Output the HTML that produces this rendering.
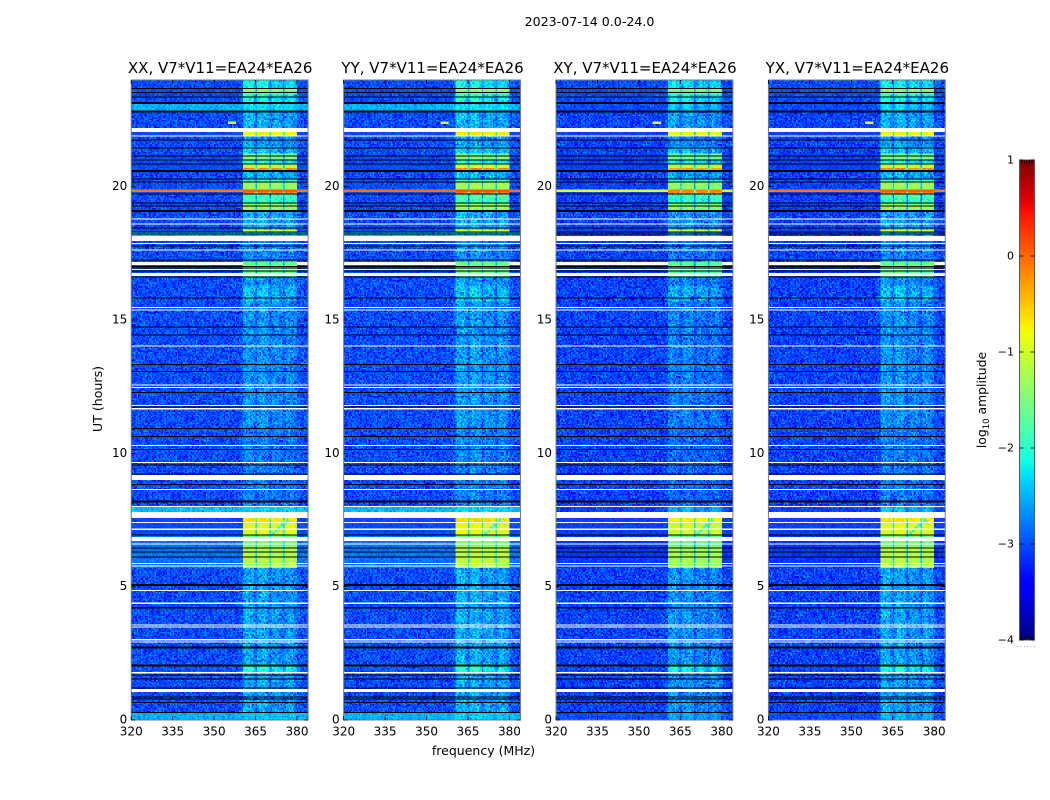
<!DOCTYPE html>
<html>
<head>
<meta charset="utf-8">
<title>2023-07-14 0.0-24.0</title>
<style>
html,body{margin:0;padding:0;background:#fff;width:1050px;height:800px;overflow:hidden}
svg{display:block}
text{font-family:"DejaVu Sans","Liberation Sans",sans-serif;fill:#000}
</style>
</head>
<body>
<svg id="figure" xmlns="http://www.w3.org/2000/svg" width="1050" height="800" viewBox="0 0 1050 800">
  <rect x="0" y="0" width="1050" height="800" fill="#fff"/>
  <text x="589.5" y="26" font-size="12.6" text-anchor="middle">2023-07-14 0.0-24.0</text>
  <text x="0" y="0" font-size="12.6" text-anchor="middle" transform="translate(102,399) rotate(-90)">UT (hours)</text>
  <text x="483.5" y="755" font-size="12.5" text-anchor="middle">frequency (MHz)</text>
  <text x="0" y="0" font-size="12.4" text-anchor="middle" transform="translate(986,400) rotate(-90)">log<tspan font-size="8.5" dy="3">10</tspan><tspan dy="-3"> amplitude</tspan></text>
  <text x="1017" y="647" font-size="5" letter-spacing="1.7" fill="#444">......</text>
</svg>
<script>
// Panels, in drawing order
const polarizations = ['XX', 'YY', 'XY', 'YX'];
const baselineName = 'V7*V11=EA24*EA26';
const xTicksMHz = [320, 335, 350, 365, 380];
const yTicksUT = [0, 5, 10, 15, 20];
const colorbarTicks = [1, 0, -1, -2, -3, -4];

// Per-bin share of the on-band level, 128 half-MHz bins from 320 MHz, for bright rows
const brightWeight = [
  0,0,0,0,0,0,0,0,0,0, 0,0,0,0,0,0,0,0,0,0,
  0,0,0,0,0,0,0,0,0,0, 0,0,0,0,0,0,0,0,0,0,
  0,0,0,0,0,0,0,0,0,0, 0,0,0,0,0,0,0,0,0,0,
  0,0,0,0,0,0,0,0,0,0, 0,0,0,0,0,0,0,0,0,0,
  0,1,1,1,1,1,1,1,1,0.97, 0.35,0.97,1,1.02,1.03,1.03,1.03,1.02,1,0.97,
  0.35,0.95,1,1,1,1,1,0.98,0.98,0.95, 0.35,0.95,1,1,1,1,1,1,0.98,0.97,
  0,0,0,0,0,0,0,0
];
// Same bins for the quiet rows
const quietWeight = [
  0,0,0,0,0,0,0,0,0,0, 0,0,0,0,0,0,0,0,0,0,
  0,0,0,0,0,0,0,0,0,0, 0,0,0,0,0,0,0,0,0,0,
  0,0,0,0,0,0,0,0,0,0, 0,0,0,0,0,0,0,0,0,0,
  0,0,0,0,0,0,0,0,0,0, 0,0,0,0,0,0,0,0,0.05,0.1,
  0.15,0.85,1,1,1,1,1,0.95,0.8,0.6, 0.35,0.75,0.95,1,1,1,1,0.95,0.85,0.7,
  0.3,0.55,0.75,0.8,0.8,0.8,0.75,0.7,0.65,0.55, 0.3,0.6,0.8,0.85,0.85,0.8,0.75,0.7,0.65,0.5,
  0.2,0.15,0.1,0.08,0.05,0.03,0,0
];

// Time segments: start in UT hours and log10 amplitudes
const segStartUT = [
  0,0.3,1.8,2.1,5.7,6.5,6.95,7.4,7.8,8.0,
  11.0,15.7,16.3,16.6,17.2,18.15,18.3,18.4,19.1,19.35,
  19.54,19.7,19.9,20.2,20.3,20.55,20.72,20.87,21.0,21.26,
  21.5,21.9,22.2,22.8,23.15,23.44,23.59,23.7
];
const segOffParallel = [
  -2.5,-3,-2.95,-3,-2.8,-2.8,-3,-3,-2.45,-3,
  -3,-3,-3,-3,-3,-2.45,-3,-3,-3,-3,
  -3,-3,-3,-3,-3,-3,-3,-3,-3,-3,
  -3,-3,-3,-2.5,-3,-3,-3,-3
];
const segOffCross = [
  -3,-3.05,-3,-3.05,-3.1,-3.1,-3.05,-3.05,-3.05,-3.05,
  -3.05,-3.05,-3.05,-3.05,-3.05,-3.05,-3.05,-3.05,-3.05,-3.05,
  -3.05,-3.05,-3.05,-3.05,-3.05,-3.05,-3.05,-3.05,-3.05,-3.05,
  -3.05,-3.05,-3.05,-3,-3,-3,-3,-3
];
const segOn = [
  -2.4,-2.5,-2.0,-2.5,-1.15,-1.5,-0.9,-0.65,-2.35,-2.72,
  -2.6,-2.35,-2.6,-1.6,-2.65,-2.35,-0.9,-2.45,-1.35,-1.9,
  -1.8,-0.1,-1.3,-1.9,-2.4,-0.2,-1.05,-2.0,-1.5,-2.3,
  -2.55,-0.75,-2.45,-2.25,-2.0,-1.6,-1.3,-2.1
];
const segGrain = [
  0.6,1,0.7,1,0.45,0.45,0.3,0.3,0.6,1,
  1,1,1,0.6,1,0.6,0.35,1,0.6,0.8,
  0.8,0.35,0.6,0.7,1,0.35,0.4,0.7,0.6,0.9,
  1,0.35,1,0.6,0.8,0.6,0.5,0.8
];
const polOnShift = [0, 0.05, -0.1, 0];

// Horizontal interference line across the whole band
const rfiRowsUT = [19.8, 19.85];
const rfiLineLevel = [-0.1, -0.05, -0.8, -0.1];
const rfiOnBandLevel = [0.05, 0.1, -0.15, 0.05];

// Drifting tone inside the bright block near 7 UT
const sweepUT = [7.0, 7.1, 7.2, 7.3, 7.4, 7.5];
const sweepMHz = [371, 372, 373, 374, 375, 376];
const sweepLevel = -2.05;

// Isolated spots
const spotUT = [22.42, 22.42, 22.42];
const spotMHz = [355, 356, 357];
const spotLevel = [-1.1, -0.9, -1.1];

// Flagged times, UT hours
const thinBlackUT = [23.68,23.53,23.36,21.75,21.45,21.15,21.0,20.85,20.29,20.18,19.73,19.39,19.28,18.45,18.3,18.22,17.78,17.25,17.01,16.95,16.84,16.61,15.83,14.74,14.44,13.34,13.06,12.29,11.74,10.94,10.64,10.15,9.57,9.23,8.84,6.93,6.45,6.3,6.12,1.69,1.54,1.2,0.87,0.79,0.66,0.29];
const thickBlackUT = [23.14,22.82,20.59,19.09,8.19,5.06,4.21,2.72,2.04];
const thinWhiteUT = [21.9,18.79,18.6,17.87,17.62,16.89,15.47,15.38,14.03,12.56,12.47,11.79,11.67,10.29,9.66,8.64,8.01,7.41,7.15,6.6,5.87,5.78,4.86,4.38,3.56,3.49,3.01,2.93];
const whiteBandStartUT = [22.05,17.96,16.65,9.0,7.575,6.71,1.74,1.05];
const whiteBandEndUT = [22.2,18.15,16.76,9.19,7.8,6.86,1.8,1.16];
const offBandWhiteStartUT = [17.06];
const offBandWhiteEndUT = [17.17];
const onBandEdgesMHz = [360.5, 380];

// Estimated speckle of the noise floor: each digit picks an offset from grainLevels
const grainLevels = [-0.55,-0.28,-0.18,-0.1,-0.03,0.03,0.08,0.14,0.22,0.38];
const grainRows = [
'3141592653589793238462643383279502884197169399375105820974944',
'5923078164062862089986280348253421170679821480865132823066470',
'9384460955058223172535940812848111745028410270193852110555964',
'4622948954930381964428810975665933446128475648233786783165271',
'2019091456485669234603486104543266482133936072602491412737245',
'8700660631558817488152092096282925409171536436789259036001133',
'0530548820466521384146951941511609433057270365759591953092186',
'1173819326117931051185480744623799627495673518857527248912279',
'3818301194912983367336244065664308602139494639522473719070217',
'9860943702770539217176293176752384674818467669405132000568127',
'1452635608277857713427577896091736371787214684409012249534301',
'4654958537105079227968925892354201995611212902196086403441815',
'9815930288175600314484150270694386746027914153278250119718267',
'2718281828459045235360287471352662497757247093699959574966967',
'6277240766303535475945713821785251664274274663919320030599218',
'1741359662904357290033429526059563073813232862794349076323382',
'9887515704660629341589021384017563219085467731240986653210478',
'3546210987653421098765012398451762309845176234905182763409128',
'7651298034612759834017265983401762598340127659834012765298340',
'0912873465019283746509128374650192387465019238476501923847651',
'4839201756483920175648392017564839201765483920715648392175046',
'6172839405617283940561728394056172839450617238940561782394056',
'8394012756839401275683940127568394012576839401725683940217568',
'2058361947205836194720583619472058361974205836917420583169472',
'5720194836572019483657201948365720194863572019843657201489365',
'1396027485139602748513960274851396027458139602478513960724851',
'7483920156748392015674839201567483920516748392105674839021567',
'9260174835926017483592601748359260174385926017843592601478359',
'0475829163047582916304758291630475829136047582196304758921630'
];

const NS = 'http://www.w3.org/2000/svg';
const svg = document.getElementById('figure');
const plotTop = 80, plotBottom = 720;
const panelLeft = 131.25, panelStep = 212.4, panelWidth = 176.8;
const minMHz = 320, maxMHz = 384, maxUT = 24, rowHours = 0.05, binMHz = 0.5;
const colorSteps = 96;

function xScale(panel, mhz) {
  return panelLeft + panel * panelStep + (mhz - minMHz) / (maxMHz - minMHz) * panelWidth;
}
function yScale(ut) {
  return plotBottom - ut / maxUT * (plotBottom - plotTop);
}
function colorbarY(level) {
  return 640 - (level + 4) * 96;
}
function ramp(points, t) {
  for (let i = 1; i < points.length; i++) {
    if (t <= points[i][0]) {
      const a = points[i - 1], b = points[i];
      return a[1] + (b[1] - a[1]) * (t - a[0]) / (b[0] - a[0]);
    }
  }
  return points[points.length - 1][1];
}
const jetR = [[0,0],[0.35,0],[0.66,1],[0.89,1],[1,0.5]];
const jetG = [[0,0],[0.125,0],[0.375,1],[0.64,1],[0.91,0],[1,0]];
const jetB = [[0,0.5],[0.11,1],[0.34,1],[0.65,0],[1,0]];
function jet(level) {
  const t = Math.min(1, Math.max(0, (level + 4) / 5));
  const c = v => Math.round(v * 255);
  return 'rgb(' + c(ramp(jetR, t)) + ',' + c(ramp(jetG, t)) + ',' + c(ramp(jetB, t)) + ')';
}
function segmentAt(ut) {
  let s = 0;
  for (let i = 0; i < segStartUT.length; i++) {
    if (segStartUT[i] <= ut) s = i;
  }
  return s;
}
function cellLevel(panel, row, bin) {
  const ut = row * rowHours;
  const mhz = minMHz + bin * binMHz;
  const s = segmentAt(ut + rowHours / 2);
  const off = panel < 2 ? segOffParallel[s] : segOffCross[s];
  const on = segOn[s] + polOnShift[panel];
  const weights = segOn[s] > -2.0 ? brightWeight : quietWeight;
  const w = weights[bin];
  const line = grainRows[(row + panel * 5) % grainRows.length];
  const col = (bin * 23 + Math.floor(row / grainRows.length) * 7 + panel * 13) % line.length;
  const grain = grainLevels[Number(line[col])] * segGrain[s];
  let level = off + (on - off) * w + grain;
  for (let i = 0; i < rfiRowsUT.length; i++) {
    if (Math.abs(ut - rfiRowsUT[i]) < 0.01) {
      level = (w > 0.6 ? rfiOnBandLevel[panel] : rfiLineLevel[panel]);
    }
  }
  for (let i = 0; i < sweepUT.length; i++) {
    if (Math.abs(ut + rowHours / 2 - sweepUT[i]) < 0.05 && Math.floor(mhz) === sweepMHz[i]) level = sweepLevel;
  }
  for (let i = 0; i < spotUT.length; i++) {
    if (Math.abs(ut + rowHours / 2 - spotUT[i]) < 0.05 && Math.floor(mhz) === spotMHz[i]) level = spotLevel[i];
  }
  return level;
}
function strip(parent, panel, y0, y1, fromMHz, toMHz, fill, name) {
  const r = document.createElementNS(NS, 'rect');
  r.setAttribute('x', xScale(panel, fromMHz));
  r.setAttribute('y', y0);
  r.setAttribute('width', xScale(panel, toMHz) - xScale(panel, fromMHz));
  r.setAttribute('height', y1 - y0);
  r.setAttribute('fill', fill);
  r.setAttribute('shape-rendering', 'crispEdges');
  
  
  parent.appendChild(r);
}
function tickLine(parent, x1, y1, x2, y2, name) {
  const l = document.createElementNS(NS, 'line');
  l.setAttribute('x1', x1);
  l.setAttribute('y1', y1);
  l.setAttribute('x2', x2);
  l.setAttribute('y2', y2);
  l.setAttribute('stroke', '#000');
  l.setAttribute('stroke-width', '0.8');
  
  
  parent.appendChild(l);
}
function label(parent, x, y, content, size, anchor, name) {
  const t = document.createElementNS(NS, 'text');
  t.setAttribute('x', x);
  t.setAttribute('y', y);
  t.setAttribute('font-size', size);
  t.setAttribute('text-anchor', anchor);
  
  
  t.textContent = content;
  parent.appendChild(t);
}

polarizations.forEach(function (pol, panel) {
  const g = document.createElementNS(NS, 'g');
  
  
  svg.appendChild(g);

  const cells = document.createElementNS(NS, 'g');
  
  
  cells.setAttribute('shape-rendering', 'crispEdges');
  g.appendChild(cells);

  // every cell is a sub-rectangle of the path for its colour step
  const pieces = [];
  for (let q = 0; q <= colorSteps; q++) pieces.push([]);
  const rows = Math.round(maxUT / rowHours);
  const bins = brightWeight.length;
  for (let row = 0; row < rows; row++) {
    const ut = row * rowHours;
    const yTop = yScale(ut + rowHours);
    const h = (yScale(ut) - yTop).toFixed(2);
    for (let bin = 0; bin < bins; bin++) {
      const x = xScale(panel, minMHz + bin * binMHz);
      const w = (xScale(panel, minMHz + (bin + 1) * binMHz) - x).toFixed(2);
      const level = cellLevel(panel, row, bin);
      const q = Math.max(0, Math.min(colorSteps, Math.round((level + 4) / 5 * colorSteps)));
      pieces[q].push('M' + x.toFixed(2) + ' ' + yTop.toFixed(2) + 'h' + w + 'v' + h + 'h-' + w + 'z');
    }
  }
  pieces.forEach(function (list, q) {
    if (!list.length) return;
    const p = document.createElementNS(NS, 'path');
    p.setAttribute('d', list.join(''));
    p.setAttribute('fill', jet(-4 + q / colorSteps * 5));
    
    
    cells.appendChild(p);
  });

  // flagged times
  thinBlackUT.forEach(function (ut) {
    strip(g, panel, yScale(ut + 0.019), yScale(ut - 0.019), minMHz, maxMHz, '#000', 'flagged-black-line');
  });
  thickBlackUT.forEach(function (ut) {
    strip(g, panel, yScale(ut + 0.036), yScale(ut - 0.036), minMHz, maxMHz, '#000', 'flagged-black-band');
  });
  thinWhiteUT.forEach(function (ut) {
    strip(g, panel, yScale(ut + 0.023), yScale(ut - 0.023), minMHz, maxMHz, '#fff', 'flagged-white-line');
  });
  whiteBandStartUT.forEach(function (start, i) {
    strip(g, panel, yScale(whiteBandEndUT[i]), yScale(start), minMHz, maxMHz, '#fff', 'flagged-white-band');
  });
  offBandWhiteStartUT.forEach(function (start, i) {
    strip(g, panel, yScale(offBandWhiteEndUT[i]), yScale(start), minMHz, onBandEdgesMHz[0], '#fff', 'flagged-white-band-low');
    strip(g, panel, yScale(offBandWhiteEndUT[i]), yScale(start), onBandEdgesMHz[1], maxMHz, '#fff', 'flagged-white-band-high');
  });

  // axes frame
  const frame = document.createElementNS(NS, 'rect');
  frame.setAttribute('x', xScale(panel, minMHz));
  frame.setAttribute('y', plotTop);
  frame.setAttribute('width', panelWidth);
  frame.setAttribute('height', plotBottom - plotTop);
  frame.setAttribute('fill', 'none');
  frame.setAttribute('stroke', '#777');
  frame.setAttribute('stroke-width', '1');
  
  
  g.appendChild(frame);

  xTicksMHz.forEach(function (mhz) {
    const x = xScale(panel, mhz);
    tickLine(g, x, plotBottom, x, plotBottom - 4, 'x-tick');
    tickLine(g, x, plotTop, x, plotTop + 4, 'x-tick-top');
    label(g, x, 735.5, String(mhz), 12, 'middle', 'x-tick-label');
  });
  yTicksUT.forEach(function (ut) {
    const y = yScale(ut);
    const left = xScale(panel, minMHz), right = xScale(panel, maxMHz);
    tickLine(g, left, y, left + 4, y, 'y-tick');
    tickLine(g, right, y, right - 4, y, 'y-tick-right');
    label(g, left - 4, y + 3.5, String(ut), 12, 'end', 'y-tick-label');
  });
  label(g, xScale(panel, minMHz) + panelWidth / 2 + 0.5, 73, pol + ', ' + baselineName, 15, 'middle', 'panel-title');
});

// colour bar
const cbar = document.createElementNS(NS, 'g');


svg.appendChild(cbar);
const cbarLeft = 1019.5, cbarRight = 1034.5;
const cbarRamp = document.createElementNS(NS, 'g');
cbarRamp.setAttribute('shape-rendering', 'crispEdges');


cbar.appendChild(cbarRamp);
for (let level = -4; level < 1; level += 0.02) {
  const seg = document.createElementNS(NS, 'rect');
  seg.setAttribute('x', cbarLeft);
  seg.setAttribute('y', colorbarY(level + 0.02));
  seg.setAttribute('width', cbarRight - cbarLeft);
  seg.setAttribute('height', 2.4);
  seg.setAttribute('fill', jet(level + 0.01));
  
  
  cbarRamp.appendChild(seg);
}
const cbarFrame = document.createElementNS(NS, 'rect');
cbarFrame.setAttribute('x', cbarLeft);
cbarFrame.setAttribute('y', colorbarY(1));
cbarFrame.setAttribute('width', cbarRight - cbarLeft);
cbarFrame.setAttribute('height', colorbarY(-4) - colorbarY(1));
cbarFrame.setAttribute('fill', 'none');
cbarFrame.setAttribute('stroke', '#555');
cbarFrame.setAttribute('stroke-width', '1');


cbar.appendChild(cbarFrame);
colorbarTicks.forEach(function (level) {
  const y = colorbarY(level);
  tickLine(cbar, cbarLeft, y, cbarLeft + 4, y, 'colorbar-tick-left');
  tickLine(cbar, cbarRight, y, cbarRight - 4, y, 'colorbar-tick-right');
  label(cbar, 1014, y + 3.5, (level < 0 ? '\u2212' + Math.abs(level) : String(level)), 11, 'end', 'colorbar-tick-label');
});
for (let i = 0; i < 5; i++) {
  const x = cbarLeft + 2.5 + i * 2.5;
  tickLine(cbar, x, colorbarY(1), x, colorbarY(1) + 4, 'colorbar-minor-tick-top');
  tickLine(cbar, x, colorbarY(-4), x, colorbarY(-4) - 4, 'colorbar-minor-tick-bottom');
}
</script>
</body>
</html>
